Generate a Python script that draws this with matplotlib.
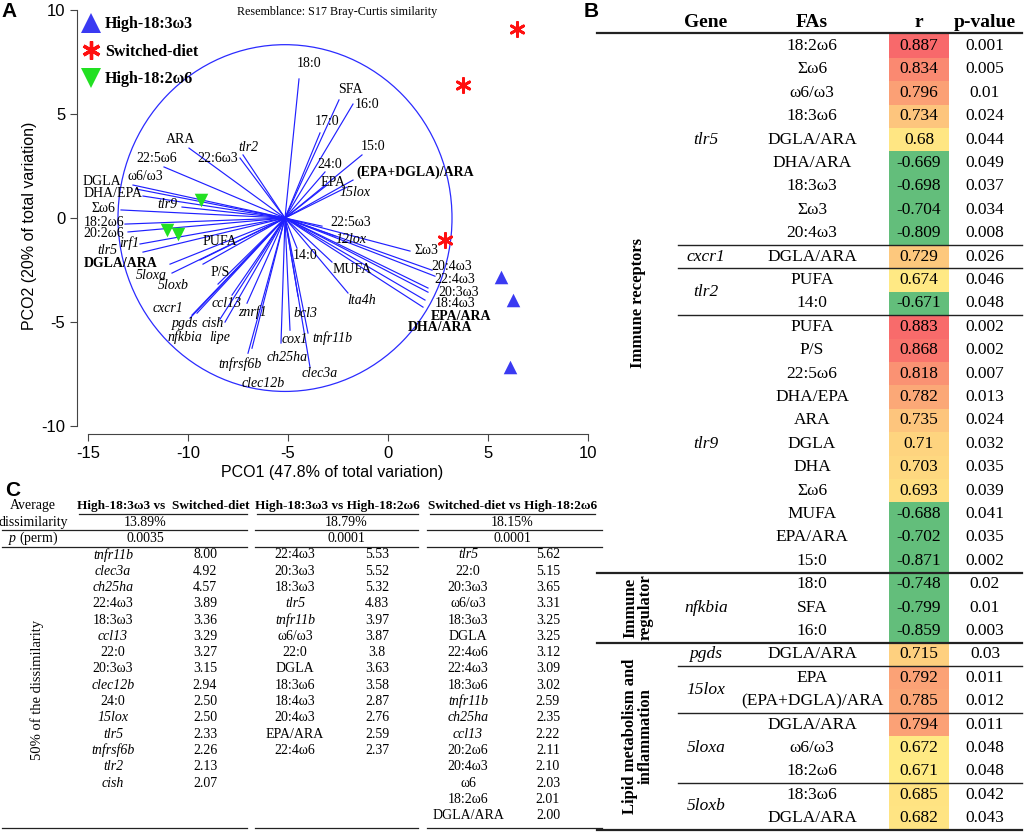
import matplotlib
matplotlib.use('Agg')
import matplotlib.pyplot as plt
from matplotlib.patches import Circle, Rectangle
from matplotlib.lines import Line2D
from matplotlib.colors import LinearSegmentedColormap, Normalize

plt.rcParams['font.family'] = ['Liberation Serif', 'DejaVu Serif']
plt.rcParams['axes.unicode_minus'] = False
plt.rcParams['mathtext.fontset'] = 'custom'
plt.rcParams['mathtext.rm'] = 'Liberation Serif'
plt.rcParams['mathtext.it'] = 'Liberation Serif:italic'
plt.rcParams['mathtext.bf'] = 'Liberation Serif:bold'
SANS = ['Liberation Sans', 'DejaVu Sans']

# ---------------- A: PCO biplot ----------------
groups = ['High-18:3ω3', 'Switched-diet', 'High-18:2ω6']
pco1_183 = [5.65, 6.25, 6.1]
pco2_183 = [-2.84, -3.95, -7.18]
pco1_sw = [6.45, 3.75, 2.85]
pco2_sw = [9.1, 6.4, -1.06]
pco1_182 = [-9.35, -11.05, -10.5]
pco2_182 = [0.87, -0.58, -0.77]

origin = (-5.15, 0.0)
circle_r = 8.35

vec_names = ['ARA', '22:5ω6', '22:6ω3', 'tlr2', 'DGLA', 'ω6/ω3', 'DHA/EPA', 'Σω6',
             'tlr9', '18:2ω6', '20:2ω6', 'irf1', 'tlr5', 'DGLA/ARA', '5loxa', '5loxb',
             'PUFA', 'P/S', 'cxcr1', 'pgds', 'nfkbia', 'cish', 'lipe', 'ccl13', 'znrf1',
             'tnfrsf6b', 'clec12b', 'bcl3', 'cox1', 'ch25ha', 'tnfr11b', 'clec3a',
             'lta4h', 'MUFA', '14:0', '22:5ω3', '12lox', 'Σω3', '20:4ω3', '22:4ω3',
             '20:3ω3', '18:4ω3', 'EPA/ARA', 'DHA/ARA', '18:0', 'SFA', '16:0', '17:0',
             '15:0', '24:0', 'EPA', '(EPA+DGLA)/ARA', '15lox']
vec_x = [-9.95, -11.2, -7.4, -7.25, -12.75, -12.6, -12.25, -13.35,
         -10.3, -13.15, -13.0, -12.4, -12.25, -10.9, -10.8, -9.25,
         -9.4, -8.5, -9.8, -9.9, -9.55, -8.4, -8.15, -7.8, -7.05,
         -7.0, -6.8, -4.5, -4.9, -5.35, -4.0, -3.9,
         -2.0, -2.8, -4.55, -3.3, -2.65, 1.1, 2.2, 2.35,
         2.0, 2.0, 1.85, 1.75, -4.45, -2.45, -1.75, -3.4,
         -1.3, -3.15, -3.05, -1.75, -2.05]
vec_y = [3.37, 2.46, 2.89, 3.04, 1.59, 1.40, 1.06, 0.39,
         0.53, -0.29, -0.67, -1.25, -1.64, -2.22, -2.65, -2.22,
         -2.02, -3.18, -4.67, -4.82, -4.58, -4.87, -5.01, -3.71, -4.10,
         -6.51, -6.27, -3.76, -5.40, -6.02, -5.54, -7.18,
         -3.61, -2.12, -1.45, -0.39, -0.87, -1.59, -2.51, -2.80,
         -3.37, -3.57, -3.95, -4.29, 6.70, 5.69, 5.49, 4.10,
         3.04, 2.22, 1.59, 1.83, 1.49]

# where each vector label sits (layout, in plot units)
label_xy = {
    'ARA': (-10.35, 3.76), '22:5ω6': (-11.55, 2.89), '22:6ω3': (-8.5, 2.89),
    'tlr2': (-7.0, 3.42), 'DGLA': (-14.3, 1.78), 'ω6/ω3': (-12.15, 1.98),
    'DHA/EPA': (-13.75, 1.16), 'Σω6': (-14.25, 0.48), 'tlr9': (-11.05, 0.63),
    '18:2ω6': (-14.2, -0.19), '20:2ω6': (-14.2, -0.72), 'irf1': (-12.95, -1.2),
    'tlr5': (-14.05, -1.54), 'DGLA/ARA': (-13.35, -2.17), '5loxa': (-11.85, -2.75),
    '5loxb': (-10.75, -3.23), 'PUFA': (-8.4, -1.11), 'P/S': (-8.4, -2.6),
    'cxcr1': (-11.0, -4.34), 'pgds': (-10.15, -5.06), 'nfkbia': (-10.15, -5.73),
    'cish': (-8.75, -5.06), 'lipe': (-8.4, -5.73), 'ccl13': (-8.05, -4.1),
    'znrf1': (-6.8, -4.53), 'tnfrsf6b': (-7.4, -7.04), 'clec12b': (-6.25, -7.95),
    'bcl3': (-4.15, -4.58), 'cox1': (-4.65, -5.83), 'ch25ha': (-5.05, -6.7),
    'tnfr11b': (-2.8, -5.78), 'clec3a': (-3.4, -7.47), 'lta4h': (-1.3, -3.95),
    'MUFA': (-1.8, -2.46), '14:0': (-4.15, -1.78), '22:5ω3': (-1.85, -0.19),
    '12lox': (-1.85, -1.01), 'Σω3': (1.9, -1.54), '20:4ω3': (3.2, -2.31),
    '22:4ω3': (3.35, -2.94), '20:3ω3': (3.55, -3.57), '18:4ω3': (3.35, -4.1),
    'EPA/ARA': (3.65, -4.72), 'DHA/ARA': (2.6, -5.25), '18:0': (-3.95, 7.42),
    'SFA': (-1.9, 6.17), '16:0': (-1.05, 5.49), '17:0': (-3.05, 4.63),
    '15:0': (-0.75, 3.47), '24:0': (-2.9, 2.6), 'EPA': (-2.75, 1.73),
    '(EPA+DGLA)/ARA': (1.35, 2.22), '15lox': (-1.65, 1.25),
}

GENES = {'tlr2', 'tlr5', 'tlr9', 'irf1', '5loxa', '5loxb', 'cxcr1', 'pgds', 'nfkbia',
         'cish', 'lipe', 'ccl13', 'znrf1', 'tnfrsf6b', 'clec12b', 'bcl3', 'cox1',
         'ch25ha', 'tnfr11b', 'clec3a', 'lta4h', '12lox', '15lox'}
BOLD_FA = {'DGLA/ARA', 'EPA/ARA', 'DHA/ARA', '(EPA+DGLA)/ARA'}

# ---------------- B: correlation table ----------------
b_class = ['Immune receptors', 'Immune\nregulator', 'Lipid metabolism and\ninflammation']
b_class_n = [4, 1, 4]   # genes in each class
b_genes = ['tlr5', 'cxcr1', 'tlr2', 'tlr9', 'nfkbia', 'pgds', '15lox', '5loxa', '5loxb']
b_fas = [['18:2ω6', 'Σω6', 'ω6/ω3', '18:3ω6', 'DGLA/ARA', 'DHA/ARA', '18:3ω3', 'Σω3', '20:4ω3'],
         ['DGLA/ARA'],
         ['PUFA', '14:0'],
         ['PUFA', 'P/S', '22:5ω6', 'DHA/EPA', 'ARA', 'DGLA', 'DHA', 'Σω6', 'MUFA', 'EPA/ARA', '15:0'],
         ['18:0', 'SFA', '16:0'],
         ['DGLA/ARA'],
         ['EPA', '(EPA+DGLA)/ARA'],
         ['DGLA/ARA', 'ω6/ω3', '18:2ω6'],
         ['18:3ω6', 'DGLA/ARA']]
b_r = [[0.887, 0.834, 0.796, 0.734, 0.68, -0.669, -0.698, -0.704, -0.809],
       [0.729],
       [0.674, -0.671],
       [0.883, 0.868, 0.818, 0.782, 0.735, 0.71, 0.703, 0.693, -0.688, -0.702, -0.871],
       [-0.748, -0.799, -0.859],
       [0.715],
       [0.792, 0.785],
       [0.794, 0.672, 0.671],
       [0.685, 0.682]]
b_p = [['0.001', '0.005', '0.01', '0.024', '0.044', '0.049', '0.037', '0.034', '0.008'],
       ['0.026'],
       ['0.046', '0.048'],
       ['0.002', '0.002', '0.007', '0.013', '0.024', '0.032', '0.035', '0.039', '0.041', '0.035', '0.002'],
       ['0.02', '0.01', '0.003'],
       ['0.03'],
       ['0.011', '0.012'],
       ['0.011', '0.048', '0.048'],
       ['0.042', '0.043']]

# ---------------- C: SIMPER table ----------------
c_pairs = ['High-18:3ω3 vs  Switched-diet', 'High-18:3ω3 vs High-18:2ω6',
           'Switched-diet vs High-18:2ω6']
c_dissim = ['13.89%', '18.79%', '18.15%']
c_perm = ['0.0035', '0.0001', '0.0001']
c_names = [['tnfr11b', 'clec3a', 'ch25ha', '22:4ω3', '18:3ω3', 'ccl13', '22:0', '20:3ω3',
            'clec12b', '24:0', '15lox', 'tlr5', 'tnfrsf6b', 'tlr2', 'cish'],
           ['22:4ω3', '20:3ω3', '18:3ω3', 'tlr5', 'tnfr11b', 'ω6/ω3', '22:0', 'DGLA',
            '18:3ω6', '18:4ω3', '20:4ω3', 'EPA/ARA', '22:4ω6'],
           ['tlr5', '22:0', '20:3ω3', 'ω6/ω3', '18:3ω3', 'DGLA', '22:4ω6', '22:4ω3',
            '18:3ω6', 'tnfr11b', 'ch25ha', 'ccl13', '20:2ω6', '20:4ω3', 'ω6', '18:2ω6',
            'DGLA/ARA']]
c_vals = [['8.00', '4.92', '4.57', '3.89', '3.36', '3.29', '3.27', '3.15', '2.94', '2.50',
           '2.50', '2.33', '2.26', '2.13', '2.07'],
          ['5.53', '5.52', '5.32', '4.83', '3.97', '3.87', '3.8', '3.63', '3.58', '2.87',
           '2.76', '2.59', '2.37'],
          ['5.62', '5.15', '3.65', '3.31', '3.25', '3.25', '3.12', '3.09', '3.02', '2.59',
           '2.35', '2.22', '2.11', '2.10', '2.03', '2.01', '2.00']]

# ================================================================
W, H = 1024, 833
fig = plt.figure(figsize=(W / 100, H / 100), dpi=100)

ax = fig.add_axes([77 / W, 1 - 434 / H, (588 - 77) / W, (434 - 10) / H])
ax.set_xlim(-15.55, 10.0)
ax.set_ylim(-10.4, 10.02)
for s in ['top', 'right']:
    ax.spines[s].set_visible(False)
ax.spines['left'].set_bounds(-10, 10)
ax.spines['bottom'].set_bounds(-15, 10)
for s in ['left', 'bottom']:
    ax.spines[s].set_color('#444444')
ax.set_xticks([-15, -10, -5, 0, 5, 10])
ax.set_yticks([-10, -5, 0, 5, 10])
ax.tick_params(direction='out', length=5, color='#444444', labelsize=12,
               labelfontfamily=SANS[0])
ax.set_xlabel('PCO1 (47.8% of total variation)', fontsize=11.5, family=SANS, labelpad=3)
ax.set_ylabel('PCO2 (20% of total variation)', fontsize=11.5, family=SANS)
ax.yaxis.set_label_coords(-0.078, 0.49)

ax.add_patch(Circle(origin, circle_r, fill=False, color='#2b2bff', lw=0.9, zorder=1))
for name, x, y in zip(vec_names, vec_x, vec_y):
    ax.plot([origin[0], x], [origin[1], y], color='#2020ff', lw=0.85, zorder=1)
    lx, ly = label_xy[name]
    ax.text(lx, ly, name, ha='center', va='center', fontsize=10,
            style='italic' if name in GENES else 'normal',
            weight='bold' if name in BOLD_FA else 'normal', zorder=3)

blue, red, green = '#3a3af2', '#ff1010', '#22e022'
ax.scatter(pco1_183, pco2_183, marker='^', s=95, color=blue, zorder=4, linewidths=0)
ax.scatter(pco1_sw, pco2_sw, marker=(6, 2, 0), s=105, color=red, linewidths=2.0, zorder=4)
ax.scatter(pco1_182, pco2_182, marker='v', s=95, color=green, zorder=4, linewidths=0)

handles = [Line2D([], [], ls='none', marker='^', ms=14, color=blue, mew=0),
           Line2D([], [], ls='none', marker=(6, 2, 0), ms=13, color=red, mew=2.4),
           Line2D([], [], ls='none', marker='v', ms=14, color=green, mew=0)]
ax.legend(handles, groups, loc='upper left', bbox_to_anchor=(0.0, 0.998), frameon=False,
          prop={'family': 'Liberation Serif', 'weight': 'bold', 'size': 11.5},
          handlelength=1.0, handletextpad=0.4, labelspacing=0.72, borderpad=0.35,
          borderaxespad=0.0)

# overlay in pixel coordinates for panel letters and tables
ov = fig.add_axes([0, 0, 1, 1])
ov.set_xlim(0, W)
ov.set_ylim(H, 0)
ov.axis('off')

ov.text(9.5, 11.5, 'A', ha='center', va='center', fontsize=15, weight='bold', family=SANS)
ov.text(591, 11, 'B', ha='center', va='center', fontsize=15, weight='bold', family=SANS)
ov.text(13, 490, 'C', ha='center', va='center', fontsize=15, weight='bold', family=SANS)
ov.text(337, 12, 'Resemblance: S17 Bray-Curtis similarity', ha='center', va='center',
        fontsize=8.7)

# ---- table B
row_h = 23.4
y_first = 46
x_gene, x_fa, x_r, x_p = 706, 812, 919, 985
for x, t in zip([x_gene, x_fa, x_r, x_p], ['Gene', 'FAs', 'r', 'p-value']):
    ov.text(x, 22, t, ha='center', va='center', fontsize=14, weight='bold')
line_c = '#222222'
ov.plot([597, 1022], [33, 33], color=line_c, lw=1.6)

cmap = LinearSegmentedColormap.from_list('yr', ['#ffeb84', '#f8696b'])
norm = Normalize(0.671, 0.887)
neg_color = '#63be7b'

row = 0
gi = 0
for ci, (cls, n) in enumerate(zip(b_class, b_class_n)):
    cls_start = row
    for k in range(n):
        g = b_genes[gi]
        g_start = row
        for fa, r, p in zip(b_fas[gi], b_r[gi], b_p[gi]):
            y = y_first + row * row_h
            col = neg_color if r < 0 else cmap(norm(r))
            ov.add_patch(Rectangle((889, y - row_h / 2), 60, row_h, color=col, lw=0, zorder=0))
            ov.text(x_fa, y, fa, ha='center', va='center', fontsize=12.5)
            ov.text(x_r, y, f'{r:g}', ha='center', va='center', fontsize=12.5)
            ov.text(x_p, y, p, ha='center', va='center', fontsize=12.5)
            row += 1
        gy = y_first + (g_start + row - 1) / 2 * row_h
        ov.text(x_gene, gy, g, ha='center', va='center', fontsize=12.5, style='italic')
        yl = y_first + (row - 0.5) * row_h
        if k < n - 1:
            ov.plot([678, 1022], [yl, yl], color=line_c, lw=1.0)
        gi += 1
    yl = y_first + (row - 0.5) * row_h
    ov.plot([597, 1022], [yl, yl], color=line_c, lw=1.6)
    cy = y_first + (cls_start + row - 1) / 2 * row_h
    ov.text(638, cy, cls, ha='center', va='center', rotation=90, fontsize=12,
            weight='bold', linespacing=1.0)

# ---- table C
c_row_h = 16.3
c_y0 = 506
head_x = [163, 337, 513]
mid_x = [145, 346, 512]
name_x = [113, 295, 468]
val_x = [205, 377, 548]
spans = [(2, 247), (255, 418), (427, 602)]
head_spans = [(79, 247), (257, 418), (430, 595)]

ov.text(33, c_y0, 'Average', ha='center', va='center', fontsize=10)
ov.text(33, c_y0 + c_row_h, 'dissimilarity', ha='center', va='center', fontsize=10)
ov.text(33, c_y0 + 2 * c_row_h, '$p$ (perm)', ha='center', va='center', fontsize=10)
ov.text(37, 690, '50% of the dissimilarity', ha='center', va='center', rotation=90,
        fontsize=10.5)
for j in range(3):
    ov.text(head_x[j], c_y0, c_pairs[j], ha='center', va='center', fontsize=9.5,
            weight='bold')
    ov.plot(head_spans[j], [c_y0 + 8, c_y0 + 8], color=line_c, lw=0.9)
    ov.text(mid_x[j], c_y0 + c_row_h, c_dissim[j], ha='center', va='center', fontsize=10)
    ov.text(mid_x[j], c_y0 + 2 * c_row_h, c_perm[j], ha='center', va='center', fontsize=10)
    for yy in [c_y0 + 1.5 * c_row_h, c_y0 + 2.5 * c_row_h, 828]:
        ov.plot(spans[j], [yy, yy], color=line_c, lw=0.9)
    for i, (nm, v) in enumerate(zip(c_names[j], c_vals[j])):
        y = c_y0 + (3 + i) * c_row_h
        ov.text(name_x[j], y, nm, ha='center', va='center', fontsize=10,
                style='italic' if nm in GENES else 'normal')
        ov.text(val_x[j], y, v, ha='center', va='center', fontsize=10)

fig.savefig('out.png', dpi=100)
